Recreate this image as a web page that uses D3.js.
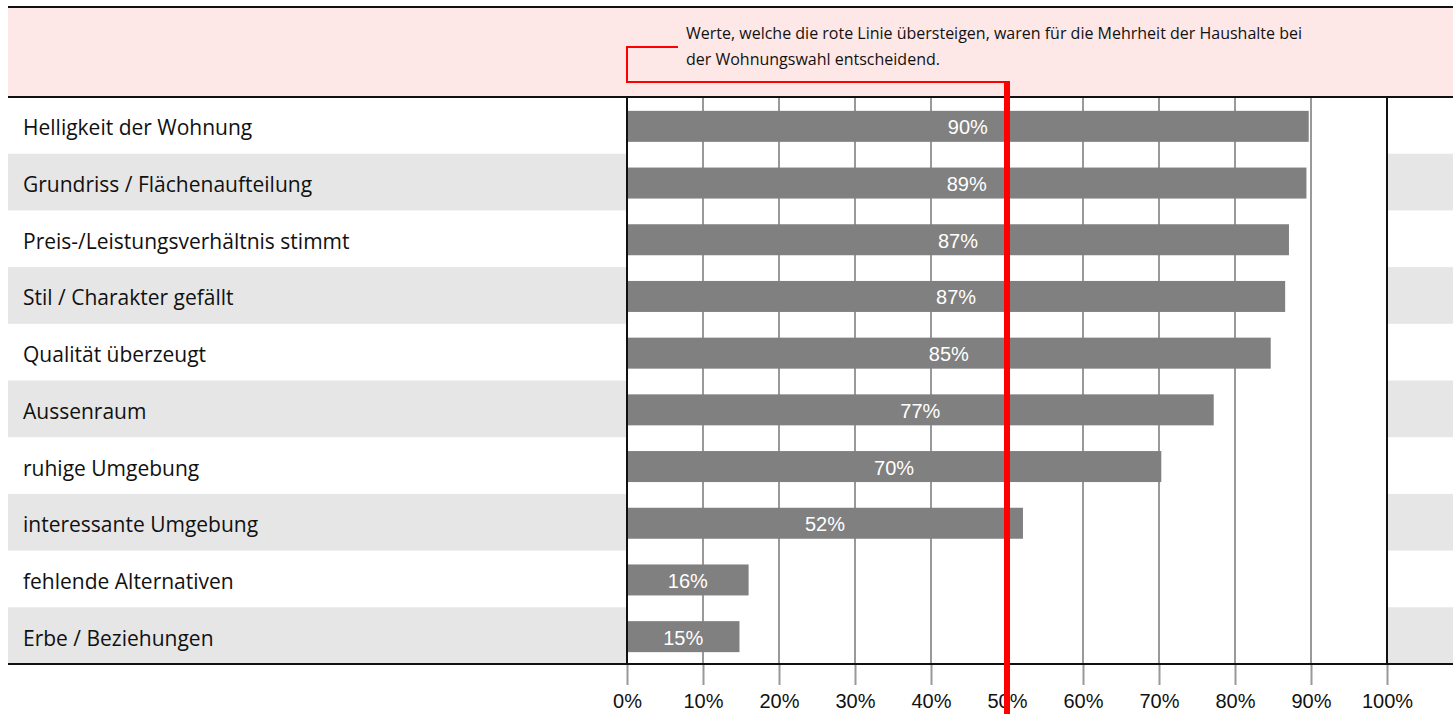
<!DOCTYPE html>
<html>
<head>
<meta charset="utf-8">
<script src="https://cdn.jsdelivr.net/npm/d3@7"></script>
<style>
  html, body { margin: 0; padding: 0; background: #fff; }
  svg { display: block; }
</style>
</head>
<body>
<div id="chart"></div>
<script>
// kategorien und werte (in prozent), von oben nach unten
var categories = [
  "Helligkeit der Wohnung",
  "Grundriss / Flächenaufteilung",
  "Preis-/Leistungsverhältnis stimmt",
  "Stil / Charakter gefällt",
  "Qualität überzeugt",
  "Aussenraum",
  "ruhige Umgebung",
  "interessante Umgebung",
  "fehlende Alternativen",
  "Erbe / Beziehungen"
];
var values = [89.7, 89.4, 87.1, 86.6, 84.7, 77.2, 70.3, 52.1, 16.0, 14.8];
var tickValues = [0, 10, 20, 30, 40, 50, 60, 70, 80, 90, 100];
var threshold = 50;
var noteLines = [
  "Werte, welche die rote Linie übersteigen, waren für die Mehrheit der Haushalte bei",
  "der Wohnungswahl entscheidend."
];

var width = 1453;
var height = 714;
var leftEdge = 8;
var plotTop = 97, plotBottom = 664;

var svg = d3.select("#chart").append("svg")
    .attr("width", width)
    .attr("height", height);

var x = d3.scaleLinear().domain([0, 100]).range([627, 1387]);
var y = d3.scaleBand().domain(categories).range([plotTop, plotBottom]);
var barH = 31;

// rosa kopfbereich
svg.append("rect")
    .attr("x", leftEdge).attr("y", 7)
    .attr("width", width - leftEdge).attr("height", plotTop - 7)
    .attr("fill", "#fde7e7");

// graue streifen (jede zweite zeile), nicht im plotbereich
var bands = svg.append("g").attr("class", "bands");
categories.forEach(function(c, i) {
  if (i % 2 == 1) {
    bands.append("rect")
        .attr("x", leftEdge).attr("y", y(c))
        .attr("width", x(0) - leftEdge).attr("height", y.bandwidth())
        .attr("fill", "#e6e6e6");
    bands.append("rect")
        .attr("x", x(100)).attr("y", y(c))
        .attr("width", width - x(100)).attr("height", y.bandwidth())
        .attr("fill", "#e6e6e6");
  }
});

// gitterlinien
svg.append("g").attr("class", "grid")
  .selectAll("line")
  .data(tickValues.filter(function(d) { return d > 0 && d < 100; }))
  .enter().append("line")
    .attr("x1", function(d) { return x(d); })
    .attr("x2", function(d) { return x(d); })
    .attr("y1", plotTop).attr("y2", plotBottom)
    .attr("stroke", "#999").attr("stroke-width", 2);

// balken
svg.append("g").attr("class", "bars")
  .selectAll("rect")
  .data(values)
  .enter().append("rect")
    .attr("x", x(0))
    .attr("y", function(d, i) { return y(categories[i]) + (y.bandwidth() - barH) / 2 + 1; })
    .attr("width", function(d) { return x(d) - x(0); })
    .attr("height", barH)
    .attr("fill", "#808080");

// werte in den balken
svg.append("g").attr("class", "barlabels")
  .selectAll("text")
  .data(values)
  .enter().append("text")
    .attr("x", function(d) { return (x(0) + x(d)) / 2; })
    .attr("y", function(d, i) { return y(categories[i]) + y.bandwidth() / 2 + 9; })
    .attr("text-anchor", "middle")
    .attr("font-family", "Liberation Sans, Arial, sans-serif")
    .attr("font-size", 20)
    .attr("fill", "#fff")
    .text(function(d) { return Math.round(d) + "%"; });

// kategorien links
svg.append("g").attr("class", "catlabels")
  .selectAll("text")
  .data(categories)
  .enter().append("text")
    .attr("x", 23)
    .attr("y", function(d) { return y(d) + y.bandwidth() / 2 + 10; })
    .attr("font-family", "Open Sans, sans-serif")
    .attr("font-size", 21)
    .attr("fill", "#111")
    .text(function(d) { return d; });

// achse unten
var axis = svg.append("g")
    .attr("transform", "translate(0," + plotBottom + ")")
    .call(d3.axisBottom(x).tickValues(tickValues)
      .tickFormat(function(d) { return d + "%"; })
      .tickSize(21).tickPadding(9));
axis.select(".domain").remove();
axis.selectAll(".tick line").attr("stroke", "#999").attr("stroke-width", 2);
axis.selectAll(".tick text")
    .attr("font-family", "Liberation Sans, Arial, sans-serif")
    .attr("font-size", 20)
    .attr("fill", "#111");

// schwarze rahmenlinien
[7, plotTop, plotBottom].forEach(function(yy) {
  svg.append("line").attr("x1", leftEdge).attr("x2", width).attr("y1", yy).attr("y2", yy)
      .attr("stroke", "#111").attr("stroke-width", 2);
});
[0, 100].forEach(function(v) {
  svg.append("line").attr("x1", x(v)).attr("x2", x(v)).attr("y1", plotTop).attr("y2", plotBottom)
      .attr("stroke", "#111").attr("stroke-width", 2);
});

// rote linie mit hinweis
var bracketY = 82;
svg.append("path")
    .attr("d", "M" + (x(0) + 51) + "," + 47 + "H" + x(0) + "V" + bracketY + "H" + x(threshold))
    .attr("fill", "none").attr("stroke", "#ff0000").attr("stroke-width", 2);
svg.append("line")
    .attr("x1", x(threshold)).attr("x2", x(threshold))
    .attr("y1", bracketY - 1).attr("y2", height)
    .attr("stroke", "#ff0000").attr("stroke-width", 6);

svg.append("g").attr("class", "note")
  .selectAll("text")
  .data(noteLines)
  .enter().append("text")
    .attr("x", 686)
    .attr("y", function(d, i) { return 39 + i * 26; })
    .attr("font-family", "Open Sans, sans-serif")
    .attr("font-size", 16)
    .attr("fill", "#111")
    .text(function(d) { return d; });
</script>
</body>
</html>
